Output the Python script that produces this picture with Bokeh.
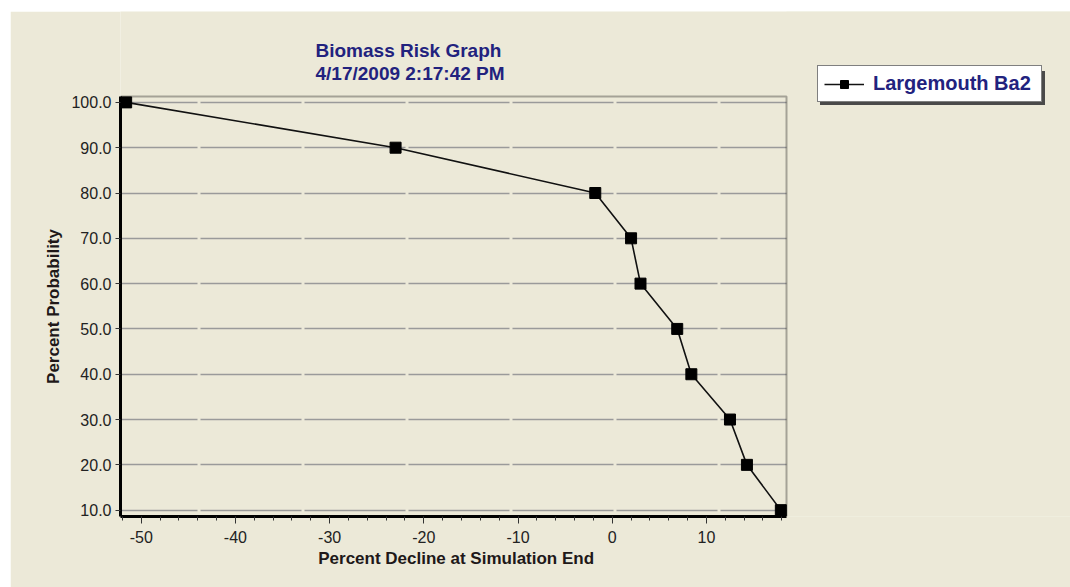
from bokeh.plotting import figure
from bokeh.models import (Range1d, FixedTicker, PrintfTickFormatter, Legend, LegendItem,
                          BoxAnnotation, Label)
from bokeh.embed import file_html
from bokeh.resources import INLINE

# ---- data ----
series_name = "Largemouth Ba2"
percent_decline = [-51.6, -23.0, -1.8, 2.0, 3.0, 6.9, 8.4, 12.5, 14.3, 17.9]
percent_probability = [100, 90, 80, 70, 60, 50, 40, 30, 20, 10]
x_ticks = [-50, -40, -30, -20, -10, 0, 10]
x_minor_ticks = list(range(-52, 19, 2))
y_ticks = [10, 20, 30, 40, 50, 60, 70, 80, 90, 100]
title_text = "Biomass Risk Graph"
subtitle_text = "4/17/2009 2:17:42 PM"
x_label = "Percent Decline at Simulation End"
y_label = "Percent Probability"

# ---- layout (pixels) ----
W, H = 1060, 576
LEFT, BOTTOM = 110, 71          # plot box left / bottom inside the canvas
BOX_W, BOX_H = 666, 420         # plot box size
X_LO, X_HI = -52.2, 18.5        # axis limits of the plot box
Y_LO, Y_HI = 8.6, 101.3

ux = (X_HI - X_LO) / BOX_W      # data units per pixel
uy = (Y_HI - Y_LO) / BOX_H
frame_w, frame_h = W - LEFT, H - BOTTOM


def x_at(px):
    return X_LO + px * ux


def y_at(py):
    return Y_LO + py * uy


BG = "#ECE9D8"
NAVY = "#22227E"
DARK = "#222222"
FONT = "Liberation Sans"
NBSP = "\u00a0"

p = figure(width=W, height=H, output_backend="svg", toolbar_location=None,
           x_range=Range1d(X_LO, x_at(frame_w)), y_range=Range1d(Y_LO, y_at(frame_h)),
           min_border_left=LEFT, min_border_right=0, min_border_top=0,
           min_border_bottom=BOTTOM, background_fill_color=BG, border_fill_color=BG,
           margin=(11, 0, 0, 10))
p.outline_line_color = None

# grid
p.xgrid.visible = False
p.ygrid.ticker = FixedTicker(ticks=y_ticks)
p.ygrid.grid_line_color = "#9A9A9A"
p.ygrid.grid_line_width = 1.5
p.ygrid.grid_line_dash = "101 3"
p.ygrid.grid_line_dash_offset = 24

# axes (limited to the plot box)
p.xaxis.ticker = FixedTicker(ticks=x_ticks, minor_ticks=x_minor_ticks)
p.xaxis.formatter = PrintfTickFormatter(format="%d")
p.xaxis.bounds = (X_LO, X_HI)
p.yaxis.ticker = FixedTicker(ticks=y_ticks, minor_ticks=[])
p.yaxis.formatter = PrintfTickFormatter(format="%.1f")
p.yaxis.bounds = (Y_LO, Y_HI)
# trailing spaces keep the labels centred on the plot box rather than the whole frame
p.xaxis.axis_label = x_label + NBSP * 59
p.yaxis.axis_label = y_label + NBSP * 18
for ax in (p.xaxis, p.yaxis):
    ax.axis_line_color = "black"
    ax.axis_line_width = 3
    ax.major_tick_line_color = "#333333"
    ax.minor_tick_line_color = "#333333"
    ax.major_tick_in = 0
    ax.minor_tick_in = 0
    ax.major_label_text_font = FONT
    ax.major_label_text_font_size = "16px"
    ax.major_label_text_color = DARK
    ax.axis_label_text_font = FONT
    ax.axis_label_text_font_size = "17px"
    ax.axis_label_text_font_style = "bold"
    ax.axis_label_text_color = "#201818"
p.xaxis.major_tick_out = 7
p.xaxis.minor_tick_out = 4
p.xaxis.major_label_standoff = 7
p.xaxis.axis_label_standoff = 3
p.yaxis.major_tick_out = 5
p.yaxis.major_label_standoff = 4
p.yaxis.axis_label_standoff = 5

# hide grid outside the plot box
p.add_layout(BoxAnnotation(left=X_HI, fill_color=BG, fill_alpha=1, line_color=None,
                           level="underlay"))

# data
line_style = dict(line_color="#111111", line_width=1.6)
marker_style = dict(marker="square", size=11, fill_color="black", line_color="black")
r_line = p.line(percent_decline, percent_probability, **line_style)
r_pts = p.scatter(percent_decline, percent_probability, **marker_style)

# plot box outline
p.add_layout(BoxAnnotation(left=X_LO, right=X_HI, bottom=Y_LO, top=Y_HI,
                           fill_alpha=0, line_color="black", line_width=2))

# title lines
title_style = dict(text_font=FONT, text_font_size="19px", text_font_style="bold",
                   text_color=NAVY, text_baseline="alphabetic", text_align="left")
p.add_layout(Label(x=x_at(195), y=y_at(466), text=title_text, **title_style))
p.add_layout(Label(x=x_at(195), y=y_at(443.5), text=subtitle_text, **title_style))

# legend with a drop shadow
common = dict(label_text_font=FONT, label_text_font_size="20px",
              label_text_font_style="bold", padding=6, margin=0,
              glyph_width=40, glyph_height=20, label_standoff=9, label_width=162,
              background_fill_alpha=1)
shadow = Legend(items=[LegendItem(label=" ", renderers=[r_line, r_pts])],
                location=(700, 411), border_line_color="#4A4A4A",
                border_line_width=1.5, background_fill_color="#4A4A4A",
                label_text_color="#4A4A4A", **common)
legend = Legend(items=[LegendItem(label=series_name, renderers=[r_line, r_pts])],
                location=(697, 414), border_line_color="black",
                border_line_width=1.5, background_fill_color="white",
                label_text_color=NAVY, **common)
p.add_layout(shadow, "center")
p.add_layout(legend, "center")

open("out.html", "w").write(file_html(p, INLINE))
